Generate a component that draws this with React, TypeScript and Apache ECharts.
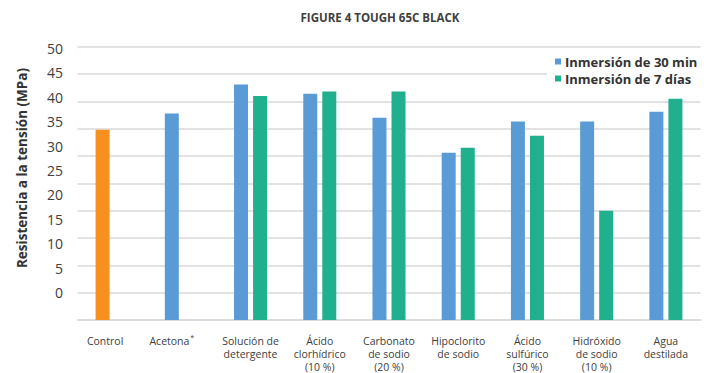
import React, { useEffect, useRef } from "react";
import * as echarts from "echarts";

// Tensile strength after chemical immersion, Tough 65C Black
const categories = [
  "Control",
  "Acetona*",
  "Solución de\ndetergente",
  "Ácido\nclorhídrico\n(10 %)",
  "Carbonato\nde sodio\n(20 %)",
  "Hipoclorito\nde sodio",
  "Ácido\nsulfúrico\n(30 %)",
  "Hidróxido\nde sodio\n(10 %)",
  "Agua\ndestilada",
];

const seriesNames = ["Inmersión de 30 min", "Inmersión de 7 días"];

// MPa; the control value sits in the first series slot
const values30min = [34.8, 37.8, 43.1, 41.4, 37.0, 30.6, 36.3, 36.3, 38.1];
const values7days: (number | null)[] = [null, null, 41.0, 41.8, 41.8, 31.5, 33.7, 20.0, 40.5];

const tickLabels = [0, 5, 10, 15, 20, 25, 30, 35, 40, 45, 50];

const COLORS = { control: "#F7901E", min30: "#5B9BD5", days7: "#20B08E" };
const FONT = "'Open Sans', 'Noto Sans', sans-serif";

export default function App() {
  const ref = useRef<HTMLDivElement>(null);

  useEffect(() => {
    document.body.style.margin = "0";
    if (!ref.current) return;
    const chart = echarts.init(ref.current, null, { renderer: "svg" });

    // single-bar categories sit under the first bar slot
    const formatCat = (v: string) => {
      if (v === "Control") return "{c|Control}";
      if (v === "Acetona*") return "{a|Acetona}{s|*}";
      return v;
    };

    chart.setOption({
      animation: false,
      backgroundColor: "#ffffff",
      textStyle: { fontFamily: FONT },
      title: {
        text: "FIGURE 4 TOUGH 65C BLACK",
        left: 375,
        top: 6,
        textAlign: "center",
        textStyle: { fontSize: 11.5, fontWeight: "bold", color: "#404040", fontFamily: FONT },
      },
      legend: {
        orient: "vertical",
        left: 547,
        top: 52,
        padding: [3, 4, 3, 8],
        backgroundColor: "#ffffff",
        itemWidth: 6,
        itemHeight: 6,
        itemGap: 4,
        icon: "rect",
        data: seriesNames,
        textStyle: { fontSize: 13, fontWeight: "bold", color: "#333333", fontFamily: FONT, padding: [0, 0, 0, -1] },
      },
      grid: { left: 77.5, right: 15.5, top: 46.7, bottom: 52.3, containLabel: false },
      xAxis: {
        type: "category",
        data: categories,
        axisLine: { lineStyle: { color: "#d9d9d9", width: 1.5 } },
        axisTick: { show: false },
        axisLabel: {
          interval: 0,
          margin: 14,
          fontSize: 10.5,
          lineHeight: 13,
          color: "#404040",
          fontFamily: FONT,
          formatter: formatCat,
          rich: {
            c: { fontSize: 10.5, color: "#404040", fontFamily: FONT, lineHeight: 13, padding: [0, 14, 0, 0] },
            a: { fontSize: 10.5, color: "#404040", fontFamily: FONT, lineHeight: 13 },
            s: { fontSize: 7, color: "#404040", fontFamily: FONT, lineHeight: 13, padding: [0, 19, 6, 1] },
          },
        },
      },
      yAxis: [
        {
          type: "value",
          min: 0,
          max: 50,
          interval: 5,
          axisLabel: { show: false },
          axisLine: { show: false },
          axisTick: { show: false },
          splitLine: { lineStyle: { color: "#d9d9d9", width: 1.5 } },
        },
        {
          type: "value",
          position: "left",
          min: -5.59,
          max: 50.33,
          axisLine: { show: false },
          axisTick: { show: false },
          splitLine: { show: false },
          axisLabel: {
            customValues: tickLabels,
            margin: 14.5,
            fontSize: 14,
            color: "#404040",
            fontFamily: FONT,
          },
        },
      ],
      graphic: [
        {
          type: "text",
          x: 22,
          y: 168,
          rotation: Math.PI / 2,
          style: {
            text: "Resistencia a la tensión (MPa)",
            fontSize: 13.5,
            fontWeight: "bold",
            fill: "#333333",
            fontFamily: FONT,
            align: "center",
            verticalAlign: "middle",
          },
        },
      ],
      series: [
        {
          name: seriesNames[0],
          type: "bar",
          yAxisIndex: 0,
          barWidth: 14,
          barGap: "36%",
          itemStyle: { color: COLORS.min30 },
          data: values30min.map((v, i) =>
            i === 0 ? { value: v, itemStyle: { color: COLORS.control } } : v
          ),
        },
        {
          name: seriesNames[1],
          type: "bar",
          yAxisIndex: 0,
          barWidth: 14,
          itemStyle: { color: COLORS.days7 },
          data: values7days.map((v) => (v === null ? "-" : v)),
        },
      ],
    });

    return () => chart.dispose();
  }, []);

  return <div ref={ref} style={{ width: 716, height: 373 }} />;
}
